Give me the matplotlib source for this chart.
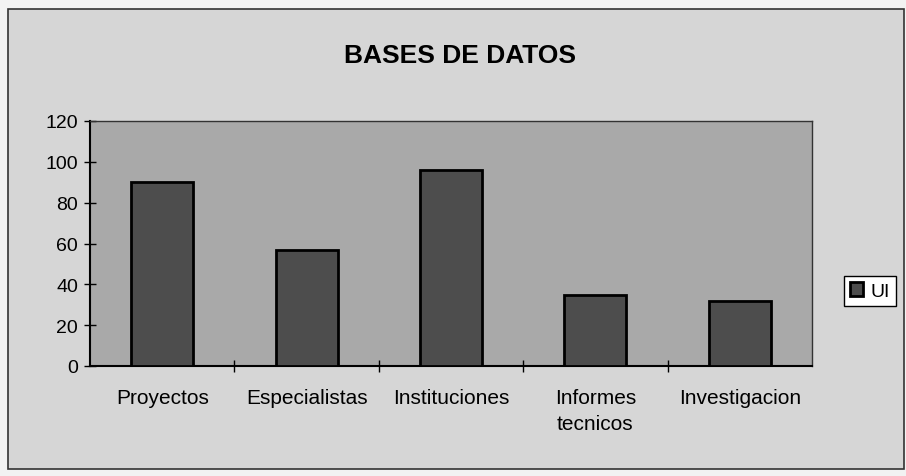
import matplotlib.pyplot as plt
from matplotlib.patches import Rectangle

categorias = ["Proyectos", "Especialistas", "Instituciones", "Informes\ntecnicos", "Investigacion"]
valores_ui = [90, 57, 96, 35, 32]
ticks_y = [0, 20, 40, 60, 80, 100, 120]

plt.rcParams['font.family'] = ['Liberation Sans', 'DejaVu Sans']

fig = plt.figure(figsize=(9.06, 4.77), dpi=100)
fig.patch.set_facecolor('#f2f2f2')

# marco del grafico (detras de los ejes)
W, H = 906, 477
fondo = Rectangle((8 / W, 1 - 470 / H), (904 - 8) / W, (470 - 10) / H,
                  transform=fig.transFigure, facecolor='#d6d6d6',
                  edgecolor='#333333', linewidth=1.2, zorder=-5)
fig.add_artist(fondo)

ax = fig.add_axes([90 / W, 1 - 367 / H, (812 - 90) / W, (367 - 122) / H])
ax.set_facecolor('#a9a9a9')

x = range(len(categorias))
ax.bar(x, valores_ui, width=0.43, color='#4d4d4d', edgecolor='black',
       linewidth=2, label='UI', zorder=3)

ax.set_xlim(-0.5, len(categorias) - 0.5)
ax.set_ylim(0, 120)
ax.set_yticks(ticks_y)
ax.set_xticks(list(x))
ax.set_xticklabels(categorias, linespacing=1.45)
ax.set_xticks([i + 0.5 for i in range(len(categorias) - 1)], minor=True)
ax.tick_params(axis='x', which='major', length=0, pad=16, labelsize=15)
ax.tick_params(axis='x', which='minor', direction='inout', length=9, width=1)
ax.tick_params(axis='y', direction='inout', length=9, width=1, labelsize=14, pad=4)

for lado in ['left', 'bottom']:
    ax.spines[lado].set_linewidth(1.5)
for lado in ['top', 'right']:
    ax.spines[lado].set_linewidth(1.0)
    ax.spines[lado].set_color('#333333')

fig.text(460 / W, 1 - 56 / H, "BASES DE DATOS", ha='center', va='center',
         fontsize=19, fontweight='bold')

ax.legend(loc='center left', bbox_to_anchor=(834 / W, 1 - 292 / H),
          bbox_transform=fig.transFigure, frameon=True, fancybox=False,
          edgecolor='black', fontsize=14, handlelength=0.7, handleheight=0.7,
          handletextpad=0.4, borderpad=0.3, framealpha=1, facecolor='white')

fig.savefig('out.png', dpi=100, facecolor=fig.get_facecolor())
